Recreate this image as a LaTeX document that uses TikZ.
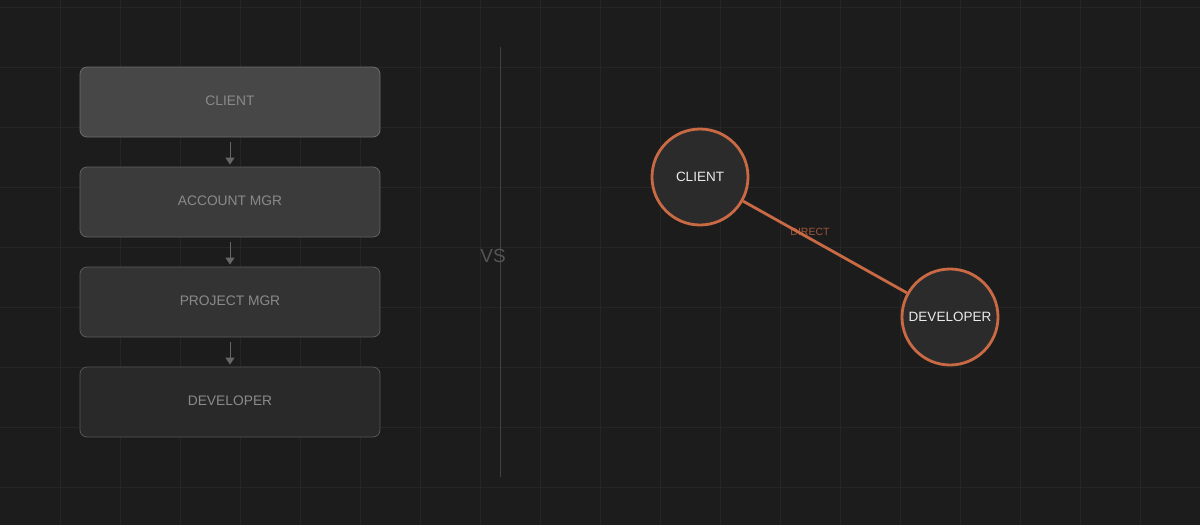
\documentclass[tikz,border=0pt]{standalone}
\usepackage{fontspec}
\setmainfont{Liberation Sans}
\usetikzlibrary{arrows.meta}
\definecolor{bgc}{HTML}{1C1C1C}
\definecolor{gridc}{HTML}{262626}
\definecolor{orng}{HTML}{C96A45}
\definecolor{lbl}{HTML}{8A8A8A}
\tikzset{
  flowbox/.style={draw=#1!80!white, rounded corners=7pt, minimum width=300pt, minimum height=70pt,
    inner sep=0pt, line width=0.8pt, text=lbl, font=\fontsize{13.8}{15}\selectfont},
  flowarrow/.style={draw=black!60!white, line width=1pt, -{Triangle[length=7pt,width=9pt]}},
  circnode/.style={circle, draw=orng, line width=2.8pt, fill=black!83!white, minimum size=96pt, inner sep=0pt,
    text=white!92!black, font=\fontsize{13.5}{15}\selectfont},
}
\begin{document}
\begin{tikzpicture}[x=1pt,y=-1pt]
\fill[bgc] (0,0) rectangle (1200,525);
\useasboundingbox (0,0) rectangle (1200,525);
\foreach \x in {60,120,...,1140} \draw[gridc, line width=0.8pt] (\x,0) -- (\x,525);
\foreach \y in {7,67,...,487} \draw[gridc, line width=0.8pt] (0,\y) -- (1200,\y);
% left hierarchy
\node[flowbox=white!28!black, fill=white!28!black] (c) at (230,102) {\raisebox{2.5pt}{CLIENT}};
\node[flowbox=white!23!black, fill=white!23!black] (a) at (230,202) {\raisebox{2.5pt}{ACCOUNT MGR}};
\node[flowbox=white!20!black, fill=white!20!black] (p) at (230,302) {\raisebox{2.5pt}{PROJECT MGR}};
\node[flowbox=white!17!black, fill=white!16!black] (d) at (230,402) {\raisebox{2.5pt}{DEVELOPER}};
\draw[flowarrow, shorten <=5pt, shorten >=2pt] (c) -- (a);
\draw[flowarrow, shorten <=5pt, shorten >=2pt] (a) -- (p);
\draw[flowarrow, shorten <=5pt, shorten >=2pt] (p) -- (d);
% separator
\coordinate (s1) at (500,47);
\coordinate (s2) at (500,477);
\draw[white!26!black, line width=0.8pt] (s1) -- (s2);
\node[text=white!33!black, font=\fontsize{19}{21}\selectfont] (vs) at (493,256) {VS};
% right direct
\node[text=orng!75!bgc, font=\fontsize{10.5}{12}\selectfont] (dl) at (810,232) {DIRECT};
\node[circnode] (cc) at (700,177) {CLIENT};
\node[circnode] (dd) at (950,317) {DEVELOPER};
\draw[orng, line width=2.8pt] (cc) -- (dd);
\end{tikzpicture}
\end{document}
